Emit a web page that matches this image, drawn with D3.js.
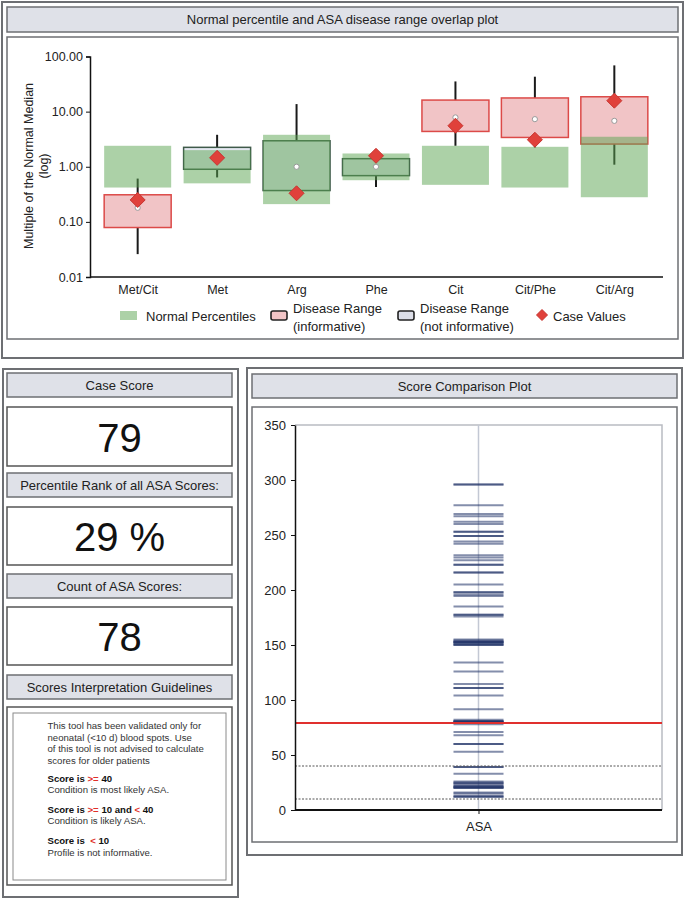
<!DOCTYPE html>
<html>
<head>
<meta charset="utf-8">
<script src="https://cdn.jsdelivr.net/npm/d3@7"></script>
<style>
  body { margin: 0; background: #fff; }
  svg { display: block; font-family: "Liberation Sans", Arial, Helvetica, sans-serif; }
</style>
</head>
<body>
<svg id="chart" width="685" height="900"></svg>
<script>
// ---------- Data: overlap plot ----------
const categories = ["Met/Cit", "Met", "Arg", "Phe", "Cit", "Cit/Phe", "Cit/Arg"];
const normalLow  = [0.42, 0.50, 0.21, 0.57, 0.47, 0.42, 0.28];
const normalHigh = [2.40, 2.00, 3.80, 1.74, 2.40, 2.30, 3.50];
const diseaseLow  = [0.079, 0.90, 0.37, 0.69, 4.37, 3.40, 2.58];
const diseaseHigh = [0.31, 2.25, 2.96, 1.40, 16.2, 17.7, 18.6];
const diseaseInformative = [true, false, false, false, true, true, true];
const whiskerLow  = [0.026, 0.64, 0.40, 0.43, 2.40, 2.24, 1.09];
const whiskerHigh = [0.61, 3.80, 13.7, 1.40, 35.3, 43.0, 69.0];
const diseaseMedian = [0.18, 1.44, 1.00, 1.00, 7.85, 7.30, 6.80];
const caseValues = [0.25, 1.45, 0.33, 1.58, 5.55, 3.09, 15.8];
const logTicks = [0.01, 0.1, 1, 10, 100];
const legendLabels = ["Normal Percentiles", "Disease Range|(informative)", "Disease Range|(not informative)", "Case Values"];

// ---------- Data: score panels ----------
const caseScore = 79;
const percentileRank = 29;
const scoreCount = 78;
const cutoffs = [40, 10];
const scoreTicks = [0, 50, 100, 150, 200, 250, 300, 350];
const asaScores = [
  296, 296, 277, 269, 267, 262, 260, 253, 253, 249, 249, 244, 242, 231.5, 229.5, 227,
  223, 223, 216, 216, 205, 198, 198, 196, 194.5, 185, 177.5, 177.5, 176,
  155, 154, 153, 153, 153, 152, 152, 151, 150, 150, 134, 126, 114.5, 111, 111, 104, 91.5,
  82, 81, 81, 80, 80, 80, 79, 79, 78, 71, 68, 60, 60, 53, 39, 39, 33,
  26, 25, 24, 24, 22, 22, 21, 21, 20, 20, 16, 15, 13, 12, 12
];

const svg = d3.select("#chart");
const FONT_COLOR = "#222";
const HEADER_FILL = "#dfe1e8";

// ---------- Frames ----------
function frame(x, y, w, h, sw, stroke) {
  svg.append("rect").attr("x", x).attr("y", y).attr("width", w).attr("height", h)
    .attr("fill", "none").attr("stroke", stroke || "#6d6f73").attr("stroke-width", sw || 1.5);
}
function header(x, y, w, h, label, fs) {
  svg.append("rect").attr("x", x).attr("y", y).attr("width", w).attr("height", h)
    .attr("fill", HEADER_FILL).attr("stroke", "#6d6f73").attr("stroke-width", 1.5);
  svg.append("text").attr("x", x + w / 2).attr("y", y + h / 2).attr("text-anchor", "middle")
    .attr("dominant-baseline", "central").attr("font-size", fs || 13).attr("fill", FONT_COLOR).text(label);
}

// top panel
frame(2, 2, 681, 356, 2);
header(7, 7, 671, 25, "Normal percentile and ASA disease range overlap plot", 13);
frame(7, 37, 671, 302, 1.5);

// ---------- Overlap plot ----------
const y = d3.scaleLog().domain([0.01, 100]).range([277, 56.5]);
const x = d3.scalePoint().domain(categories).range([90, 662]).padding(0.6);
const boxW = 67;

const gy = svg.append("g").attr("transform", "translate(90,0)")
  .call(d3.axisLeft(y).tickValues(logTicks).tickFormat(d3.format(".2f")).tickSize(4).tickPadding(3));
gy.select(".domain").attr("stroke", "#111").attr("stroke-width", 1.5);
gy.selectAll(".tick line").attr("stroke", "#111");
gy.selectAll("text").attr("font-size", 12.5).attr("fill", FONT_COLOR)
  .attr("font-family", "Liberation Sans, Arial, sans-serif");

const gx = svg.append("g").attr("transform", "translate(0,277)")
  .call(d3.axisBottom(x).tickSize(0).tickPadding(8).tickSizeOuter(0));
gx.select(".domain").attr("stroke", "#111").attr("stroke-width", 1.5).attr("d", "M90,0H663");
gx.selectAll("text").attr("font-size", 12.5).attr("fill", FONT_COLOR)
  .attr("font-family", "Liberation Sans, Arial, sans-serif");

svg.append("text").attr("transform", "translate(33,166) rotate(-90)").attr("text-anchor", "middle")
  .attr("font-size", 12.5).attr("fill", FONT_COLOR).text("Multiple of the Normal Median");
svg.append("text").attr("transform", "translate(48,166) rotate(-90)").attr("text-anchor", "middle")
  .attr("font-size", 12.5).attr("fill", FONT_COLOR).text("(log)");

const idx = d3.range(categories.length);
const plot = svg.append("g");

// whiskers
plot.selectAll("line.whisker").data(idx).join("line").attr("class", "whisker")
  .attr("x1", i => x(categories[i])).attr("x2", i => x(categories[i]))
  .attr("y1", i => y(whiskerHigh[i])).attr("y2", i => y(whiskerLow[i]))
  .attr("stroke", "#1a1a1a").attr("stroke-width", 2);

// disease ranges
plot.selectAll("rect.disease").data(idx).join("rect").attr("class", "disease")
  .attr("x", i => x(categories[i]) - boxW / 2).attr("width", boxW)
  .attr("y", i => y(diseaseHigh[i])).attr("height", i => y(diseaseLow[i]) - y(diseaseHigh[i]))
  .attr("fill", i => diseaseInformative[i] ? "#f1c4c6" : "#e4e7f0")
  .attr("stroke", i => diseaseInformative[i] ? "#dc4a48" : "#3f5a4a")
  .attr("stroke-width", 1.5);

// normal percentiles (translucent)
plot.selectAll("rect.normal").data(idx).join("rect").attr("class", "normal")
  .attr("x", i => x(categories[i]) - boxW / 2).attr("width", boxW)
  .attr("y", i => y(normalHigh[i])).attr("height", i => y(normalLow[i]) - y(normalHigh[i]))
  .attr("fill", "rgb(89,163,80)").attr("fill-opacity", 0.5);

// median dots
plot.selectAll("circle.med").data(idx).join("circle").attr("class", "med")
  .attr("cx", i => x(categories[i])).attr("cy", i => y(diseaseMedian[i])).attr("r", 2.6)
  .attr("fill", "#fff").attr("stroke", "#9a9a9a").attr("stroke-width", 1);

// case diamonds
const dia = (s) => `M0,${-s}L${s},0L0,${s}L${-s},0Z`;
plot.selectAll("path.case").data(idx).join("path").attr("class", "case")
  .attr("transform", i => `translate(${x(categories[i])},${y(caseValues[i])})`)
  .attr("d", dia(7.5)).attr("fill", "#e0413b").attr("stroke", "#c73530").attr("stroke-width", 1);

// legend
const lg = svg.append("g");
lg.append("rect").attr("x", 120).attr("y", 311).attr("width", 17).attr("height", 9)
  .attr("fill", "rgb(89,163,80)").attr("fill-opacity", 0.5);
lg.append("text").attr("x", 146).attr("y", 316).attr("dominant-baseline", "central")
  .attr("font-size", 13).attr("fill", FONT_COLOR).text(legendLabels[0]);
function legBox(xx, fill, lbl) {
  lg.append("rect").attr("x", xx).attr("y", 311).attr("width", 16).attr("height", 9).attr("rx", 2)
    .attr("fill", fill).attr("stroke", "#222").attr("stroke-width", 1.6);
  const parts = lbl.split("|");
  lg.append("text").attr("x", xx + 22).attr("y", 308).attr("dominant-baseline", "central")
    .attr("font-size", 13).attr("fill", FONT_COLOR).text(parts[0]);
  lg.append("text").attr("x", xx + 22).attr("y", 326).attr("dominant-baseline", "central")
    .attr("font-size", 13).attr("fill", FONT_COLOR).text(parts[1]);
}
legBox(271, "#f1c4c6", legendLabels[1]);
legBox(398, "#dcdee8", legendLabels[2]);
lg.append("path").attr("transform", "translate(542,315)").attr("d", dia(5.5))
  .attr("fill", "#e0413b").attr("stroke", "#c73530");
lg.append("text").attr("x", 553).attr("y", 316).attr("dominant-baseline", "central")
  .attr("font-size", 13).attr("fill", FONT_COLOR).text(legendLabels[3]);

// ---------- Left panel ----------
frame(3, 369, 235, 528, 2);
function valueBox(yy, h, txt) {
  svg.append("rect").attr("x", 7).attr("y", yy).attr("width", 225).attr("height", h)
    .attr("fill", "#fff").attr("stroke", "#555").attr("stroke-width", 1.5);
  svg.append("text").attr("x", 119.5).attr("y", yy + h / 2 + 1).attr("text-anchor", "middle")
    .attr("dominant-baseline", "central").attr("font-size", 40).attr("fill", "#111").text(txt);
}
header(7, 373, 225, 24, "Case Score", 13);
valueBox(407, 59, String(caseScore));
header(7, 473, 225, 24, "Percentile Rank of all ASA Scores:", 13);
valueBox(507, 58, percentileRank + " %");
header(7, 574, 225, 24, "Count of ASA Scores:", 13);
valueBox(607, 58, String(scoreCount));
header(7, 675, 225, 24, "Scores Interpretation Guidelines", 13);
svg.append("rect").attr("x", 7).attr("y", 707).attr("width", 225).attr("height", 178)
  .attr("fill", "#fff").attr("stroke", "#555").attr("stroke-width", 1.5);
svg.append("rect").attr("x", 13).attr("y", 713).attr("width", 213).attr("height", 167)
  .attr("fill", "#fff").attr("stroke", "#8a8a8a").attr("stroke-width", 1);

const guideLines = [
  { y: 725, parts: [["This tool has been validated only for", "n"]] },
  { y: 736.7, parts: [["neonatal (<10 d) blood spots. Use", "n"]] },
  { y: 748.3, parts: [["of this tool is not advised to calculate", "n"]] },
  { y: 759.5, parts: [["scores for older patients", "n"]] },
  { y: 778, parts: [["Score is ", "b"], [">=", "r"], [" 40", "b"]] },
  { y: 789, parts: [["Condition is most likely ASA.", "n"]] },
  { y: 808.5, parts: [["Score is ", "b"], [">=", "r"], [" 10 and ", "b"], ["<", "r"], [" 40", "b"]] },
  { y: 819.5, parts: [["Condition is likely ASA.", "n"]] },
  { y: 840, parts: [["Score is  ", "b"], ["<", "r"], [" 10", "b"]] },
  { y: 851.5, parts: [["Profile is not informative.", "n"]] }
];
guideLines.forEach(l => {
  const t = svg.append("text").attr("x", 47.5).attr("y", l.y).attr("dominant-baseline", "central")
    .attr("font-size", 9.6).attr("fill", "#333").attr("xml:space", "preserve");
  l.parts.forEach(p => {
    t.append("tspan").text(p[0])
      .attr("font-weight", p[1] === "n" ? "normal" : "bold")
      .attr("fill", p[1] === "r" ? "#e0302a" : (p[1] === "b" ? "#111" : "#333"));
  });
});

// ---------- Right panel: Score comparison ----------
frame(247, 368, 435, 487, 2);
header(252, 374, 425, 24, "Score Comparison Plot", 13);
svg.append("rect").attr("x", 252).attr("y", 407).attr("width", 425).attr("height", 435)
  .attr("fill", "#fff").attr("stroke", "#6d6f73").attr("stroke-width", 1.5);

const ys = d3.scaleLinear().domain([0, 350]).range([810, 425]);
const xs = d3.scalePoint().domain(["ASA"]).range([295, 662]).padding(0.5);
const sp = svg.append("g");

// plot frame (light)
sp.append("path").attr("d", `M295,${ys(350)}H662V${ys(0)}`).attr("fill", "none")
  .attr("stroke", "#b9bcc2").attr("stroke-width", 1.5);
sp.append("line").attr("x1", xs("ASA")).attr("x2", xs("ASA")).attr("y1", ys(350)).attr("y2", ys(0))
  .attr("stroke", "#c3c8d4").attr("stroke-width", 1.5);

// score lines
const halfW = 25;
sp.selectAll("line.score").data(asaScores).join("line").attr("class", "score")
  .attr("x1", xs("ASA") - halfW).attr("x2", xs("ASA") + halfW)
  .attr("y1", d => ys(d)).attr("y2", d => ys(d))
  .attr("stroke", "#1f3166").attr("stroke-opacity", 0.55).attr("stroke-width", 2);

// cutoffs
sp.selectAll("line.cut").data(cutoffs).join("line").attr("class", "cut")
  .attr("x1", 295).attr("x2", 662).attr("y1", d => ys(d)).attr("y2", d => ys(d))
  .attr("stroke", "#555").attr("stroke-width", 1).attr("stroke-dasharray", "2,1.5");

// case score line
sp.append("line").attr("x1", 295).attr("x2", 662).attr("y1", ys(caseScore)).attr("y2", ys(caseScore))
  .attr("stroke", "#e0302e").attr("stroke-width", 2);

const gys = sp.append("g").attr("transform", "translate(295,0)")
  .call(d3.axisLeft(ys).tickValues(scoreTicks).tickSize(4).tickPadding(5).tickSizeOuter(0));
gys.select(".domain").attr("stroke", "#111").attr("stroke-width", 1.5);
gys.selectAll(".tick line").attr("stroke", "#111");
gys.selectAll("text").attr("font-size", 13).attr("fill", FONT_COLOR)
  .attr("font-family", "Liberation Sans, Arial, sans-serif");

const gxs = sp.append("g").attr("transform", `translate(0,${ys(0)})`)
  .call(d3.axisBottom(xs).tickSize(4).tickPadding(8).tickSizeOuter(0));
gxs.select(".domain").attr("stroke", "#111").attr("stroke-width", 1.8).attr("d", "M295,0H662");
gxs.selectAll(".tick line").attr("stroke", "#111");
gxs.selectAll("text").attr("font-size", 13).attr("fill", FONT_COLOR)
  .attr("font-family", "Liberation Sans, Arial, sans-serif");
</script>
</body>
</html>
